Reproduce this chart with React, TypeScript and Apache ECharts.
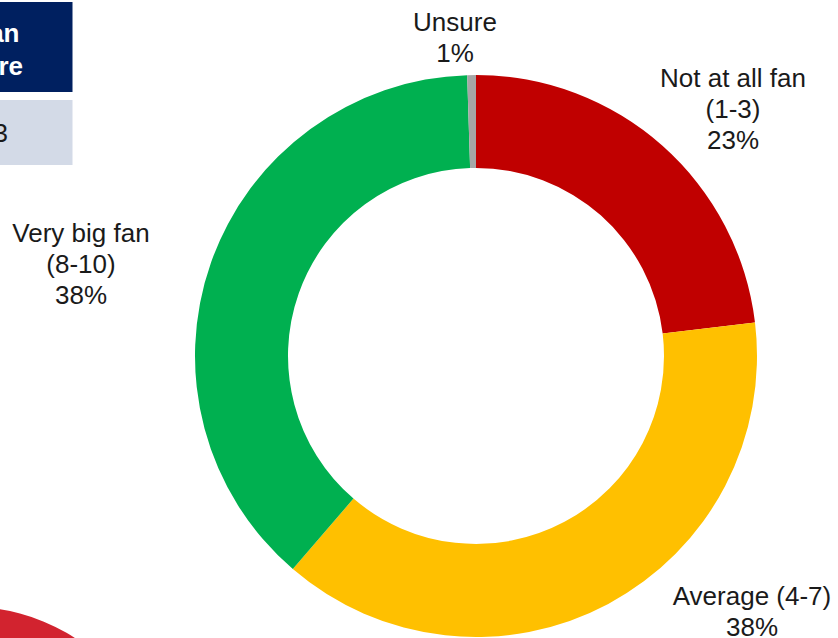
import React, { useEffect, useRef } from "react";
import * as echarts from "echarts";

const categories = ["Not at all fan\n(1-3)", "Average (4-7)", "Very big fan\n(8-10)", "Unsure"];
const shares = [23.1, 38.2, 38.2, 0.5];
const shareLabels = [23, 38, 38, 1];
const sliceColors = ["#C00000", "#FFC000", "#00B050", "#A6A6A6"];
const tableHeaderLines = ["Fan", "Score"];
const tableValue = "3";

const labelPos = [
  { x: 733, y: 109 },
  { x: 752, y: 611 },
  { x: 81, y: 264 },
  { x: 455, y: 37 },
];

export default function App() {
  const ref = useRef<HTMLDivElement>(null);
  useEffect(() => {
    if (!ref.current) return;
    const chart = echarts.init(ref.current, null, { renderer: "svg" });
    const font = "'Liberation Sans', Arial, sans-serif";
    chart.setOption({
      animation: false,
      backgroundColor: "#ffffff",
      graphic: [
        { type: "rect", shape: { x: -2, y: 2, width: 74.5, height: 90 }, style: { fill: "#002060" } },
        { type: "rect", shape: { x: -2, y: 100, width: 74.5, height: 65 }, style: { fill: "#D3DAE7" } },
        {
          type: "text",
          style: { text: tableHeaderLines[0], x: 19.5, y: 33, align: "right", verticalAlign: "middle", fill: "#ffffff", font: `bold 26px ${font}` },
        },
        {
          type: "text",
          style: { text: tableHeaderLines[1], x: 23, y: 66, align: "right", verticalAlign: "middle", fill: "#ffffff", font: `bold 26px ${font}` },
        },
        {
          type: "text",
          style: { text: tableValue, x: 8, y: 133, align: "right", verticalAlign: "middle", fill: "#1a1a1a", font: `26px ${font}` },
        },
        { type: "circle", shape: { cx: -30, cy: 800, r: 193 }, style: { fill: "#D2232F" } },
      ],
      series: [
        {
          type: "pie",
          center: [476, 356],
          radius: [188, 281],
          startAngle: 90,
          clockwise: true,
          avoidLabelOverlap: false,
          silent: true,
          data: categories.map((name, i) => ({
            name,
            value: shares[i],
            itemStyle: { color: sliceColors[i] },
          })),
          label: {
            show: true,
            position: "outside",
            formatter: (p: any) => `${p.name}\n${shareLabels[p.dataIndex]}%`,
            color: "#1a1a1a",
            fontFamily: font,
            fontSize: 26,
            lineHeight: 31,
            align: "center",
          },
          labelLine: { show: false },
          labelLayout: (p: any) => ({
            x: labelPos[p.dataIndex].x,
            y: labelPos[p.dataIndex].y,
            align: "center",
            verticalAlign: "middle",
          }),
        },
      ],
    });
    return () => chart.dispose();
  }, []);
  return (
    <div
      ref={ref}
      style={{ position: "absolute", left: 0, top: 0, width: 838, height: 638 }}
    />
  );
}
